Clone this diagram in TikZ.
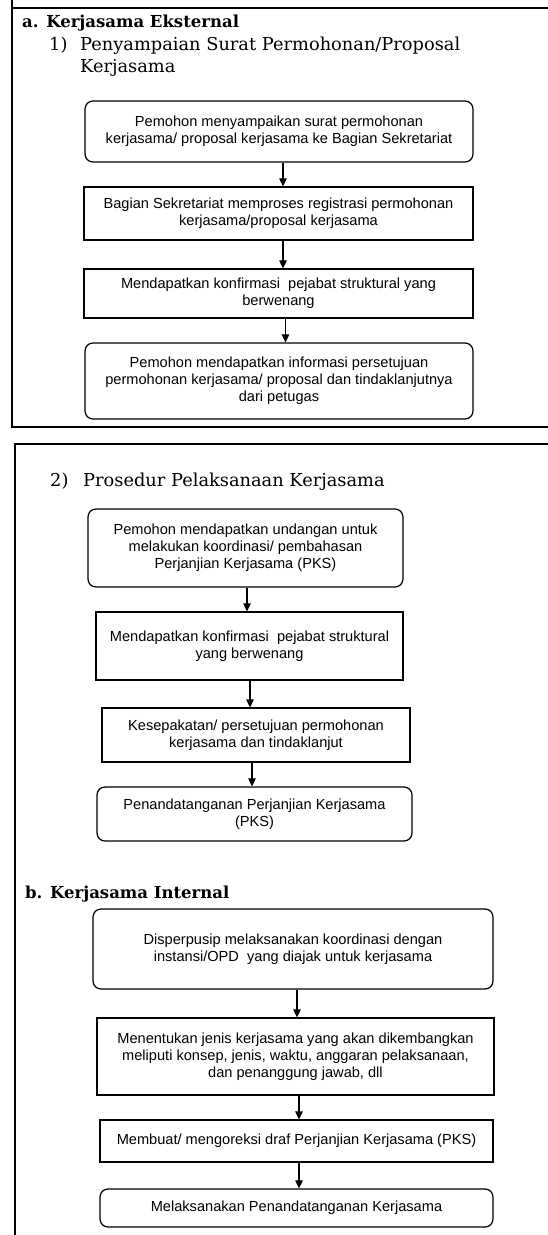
\documentclass[tikz,border=0pt]{standalone}
\usepackage{fontspec}
\setmainfont{Liberation Sans}
\newfontfamily\headfont{DejaVu Serif}
\usetikzlibrary{arrows.meta}
\begin{document}
\begin{tikzpicture}[x=1pt,y=-1pt,
  frame/.style={line width=1.5pt},
  boxbase/.style={draw, line width=1.25pt, align=center, inner sep=0pt, font=\fontsize{14.6}{17}\selectfont},
  rbox/.style={boxbase, rounded corners=8pt},
  sbox/.style={boxbase},
  flow/.style={line width=1.2pt, -{Triangle[width=7.5pt,length=8pt]}},
  headtxt/.style={anchor=base west, inner sep=0pt, font=\headfont\fontsize{17.8}{21}\selectfont},
  headbold/.style={anchor=base west, inner sep=0pt, font=\headfont\bfseries\fontsize{16.5}{20}\selectfont},
]
\useasboundingbox (0,0) rectangle (548,1235);
% frames
\draw[frame] (12,0) -- (12,427) -- (548,427);
\draw[frame] (12,8) -- (548,8);
\draw[frame] (15,1235) -- (15,444) -- (548,444);

% headings
\node[headbold] (ha) at (22,27) {a. Kerjasama Eksternal};
\node[headtxt] (n1) at (49,50) {1)};
\node[headtxt] (h1a) at (80,50) {Penyampaian Surat Permohonan/Proposal};
\node[headtxt] (h1b) at (80,72) {Kerjasama};
\node[headtxt] (n2) at (50,486) {2)};
\node[headtxt] (h2) at (83,486) {Prosedur Pelaksanaan Kerjasama};
\node[headbold] (hb) at (25,898) {b. Kerjasama Internal};

% section 1
\node[rbox, minimum width=388pt, minimum height=61pt] (b1) at (279,131.5)
  {Pemohon menyampaikan surat permohonan\\kerjasama/ proposal kerjasama ke Bagian Sekretariat};
\node[sbox, minimum width=389pt, minimum height=53pt] (b2) at (278.5,213.5)
  {Bagian Sekretariat memproses registrasi permohonan\\kerjasama/proposal kerjasama};
\node[sbox, minimum width=389pt, minimum height=49pt] (b3) at (278.5,293.5)
  {Mendapatkan konfirmasi\ \ pejabat struktural yang\\berwenang};
\node[rbox, minimum width=388pt, minimum height=76pt] (b4) at (279,381)
  {Pemohon mendapatkan informasi persetujuan\\permohonan kerjasama/ proposal dan tindaklanjutnya\\dari petugas};

% section 2
\node[rbox, minimum width=315pt, minimum height=78pt] (b5) at (245.5,548)
  {Pemohon mendapatkan undangan untuk\\melakukan koordinasi/ pembahasan\\Perjanjian Kerjasama (PKS)};
\node[sbox, minimum width=307pt, minimum height=68pt] (b6) at (249.5,646)
  {Mendapatkan konfirmasi\ \ pejabat struktural\\yang berwenang};
\node[sbox, minimum width=308pt, minimum height=54pt] (b7) at (256,735)
  {Kesepakatan/ persetujuan permohonan\\kerjasama dan tindaklanjut};
\node[rbox, minimum width=315pt, minimum height=54pt] (b8) at (254.5,814)
  {Penandatanganan Perjanjian Kerjasama\\(PKS)};

% section b
\node[rbox, minimum width=400pt, minimum height=80pt] (b9) at (293,949)
  {Disperpusip melaksanakan koordinasi dengan\\instansi/OPD\ \ yang diajak untuk kerjasama};
\node[sbox, minimum width=397pt, minimum height=77pt] (b10) at (295.5,1056.5)
  {Menentukan jenis kerjasama yang akan dikembangkan\\meliputi konsep, jenis, waktu, anggaran pelaksanaan,\\dan penanggung jawab, dll};
\node[sbox, minimum width=393pt, minimum height=42pt] (b11) at (296.5,1141)
  {Membuat/ mengoreksi draf Perjanjian Kerjasama (PKS)};
\node[rbox, minimum width=393pt, minimum height=38pt] (b12) at (296.5,1208)
  {Melaksanakan Penandatanganan Kerjasama};

% arrows
\coordinate (a1) at ([xshift=4pt]b1.south);
\coordinate (a2) at ([xshift=4.5pt]b2.south);
\coordinate (a3) at ([xshift=7pt]b3.south);
\coordinate (a5) at ([xshift=1.5pt]b5.south);
\coordinate (a6) at ([xshift=0.5pt]b6.south);
\coordinate (a7) at ([xshift=-4pt]b7.south);
\coordinate (a9) at ([xshift=4pt]b9.south);
\coordinate (a10) at ([xshift=3.5pt]b10.south);
\coordinate (a11) at ([xshift=2.5pt]b11.south);
\draw[flow] (a1) -- (a1 |- b2.north);
\draw[flow] (a2) -- (a2 |- b3.north);
\draw[flow] (a3) -- (a3 |- b4.north);
\draw[flow] (a5) -- (a5 |- b6.north);
\draw[flow] (a6) -- (a6 |- b7.north);
\draw[flow] (a7) -- (a7 |- b8.north);
\draw[flow] (a9) -- (a9 |- b10.north);
\draw[flow] (a10) -- (a10 |- b11.north);
\draw[flow] (a11) -- (a11 |- b12.north);
\end{tikzpicture}
\end{document}
